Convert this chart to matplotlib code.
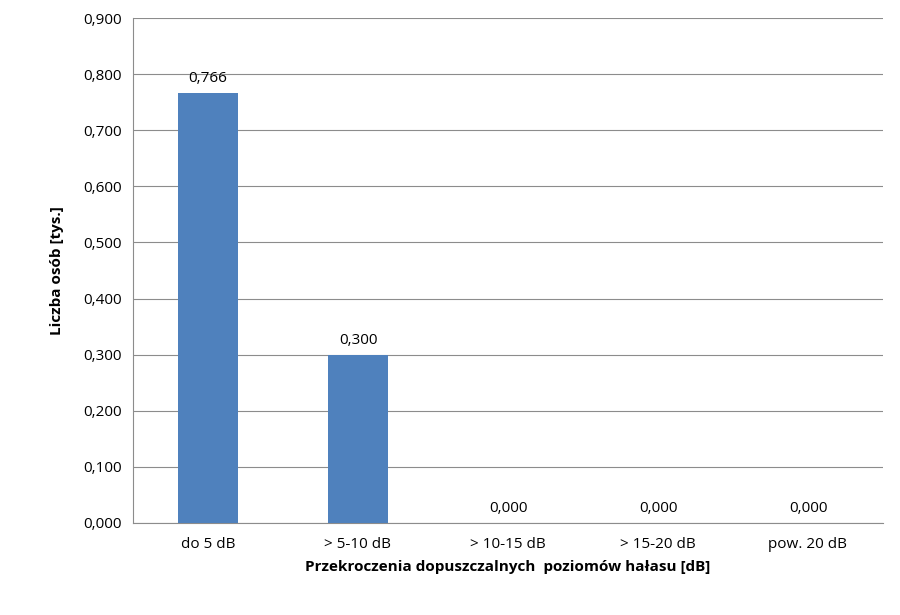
import matplotlib.pyplot as plt
from matplotlib.ticker import FuncFormatter

categories = ['do 5 dB', '> 5-10 dB', '> 10-15 dB', '> 15-20 dB', 'pow. 20 dB']
values = [0.766, 0.300, 0.000, 0.000, 0.000]

plt.rcParams['font.family'] = ['Open Sans', 'DejaVu Sans']

fig = plt.figure(figsize=(9, 6.15), dpi=100)
ax = fig.add_axes([133 / 900, 1 - 523 / 615, (883 - 133) / 900, (523 - 18) / 615])

x = range(len(categories))
ax.bar(x, values, width=0.4, color='#4F81BD', zorder=3)
for i, v in zip(x, values):
    ax.text(i, v + 0.012, f'{v:.3f}'.replace('.', ','), ha='center', va='bottom', fontsize=11)

ax.set_ylim(0, 0.9)
ax.set_xlim(-0.5, len(categories) - 0.5)
ax.set_yticks([i / 10 for i in range(10)])
ax.yaxis.set_major_formatter(FuncFormatter(lambda v, p: f'{v:.3f}'.replace('.', ',')))
ax.set_xticks(list(x))
ax.set_xticklabels(categories)
ax.tick_params(labelsize=11, length=0, pad=8)
ax.tick_params(axis='x', pad=10)
ax.grid(axis='y', color='#8c8c8c', linewidth=0.8, zorder=0)
for s in ['top', 'right']:
    ax.spines[s].set_visible(False)
ax.spines['left'].set_color('#8c8c8c')
ax.spines['bottom'].set_color('#8c8c8c')

ax.set_ylabel('Liczba osób [tys.]', fontsize=11, fontweight='bold', labelpad=14)
ax.set_xlabel('Przekroczenia dopuszczalnych  poziomów hałasu [dB]', fontsize=11, fontweight='bold', labelpad=6)

fig.savefig('out.png', dpi=100)
